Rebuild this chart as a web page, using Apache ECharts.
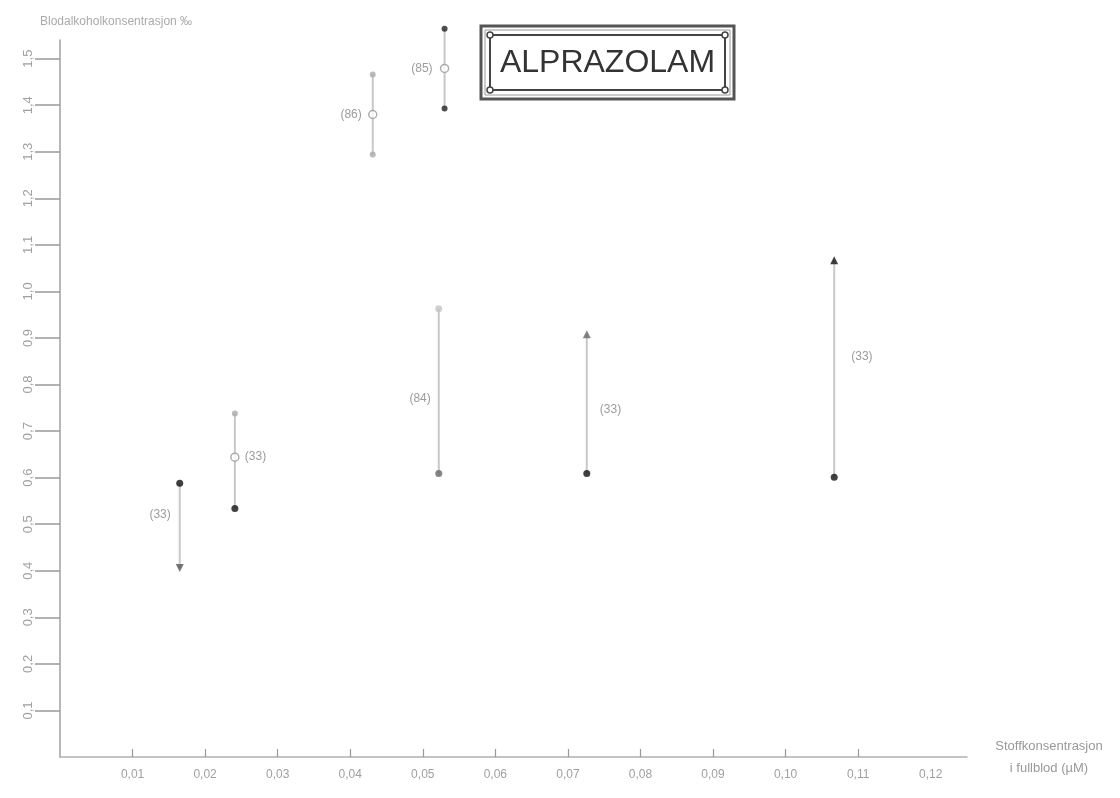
<!DOCTYPE html>
<html><head><meta charset="utf-8">
<script src="https://cdn.jsdelivr.net/npm/echarts@6/dist/echarts.min.js"></script>
<style>html,body{margin:0;padding:0;background:#fff}#c{width:1120px;height:798px}</style>
</head><body><div id="c"></div>
<script>
// ---- data ----
const concentrations = [0.0165, 0.0241, 0.0431, 0.0530, 0.0522, 0.0726, 0.1067];
const upperValues   = [0.588, 0.738, 1.466, 1.564, 0.963, 0.908, 1.067];
const middleValues  = [null, 0.644, 1.380, 1.479, null, null, null];
const lowerValues   = [0.406, 0.534, 1.294, 1.393, 0.609, 0.609, 0.601];
const caseCounts    = ['(33)', '(33)', '(86)', '(85)', '(84)', '(33)', '(33)'];
const countLabelAt  = [0.52, 0.644, 1.380, 1.479, 0.77, 0.745, 0.86];
const yTickValues   = [0.1, 0.2, 0.3, 0.4, 0.5, 0.6, 0.7, 0.8, 0.9, 1.0, 1.1, 1.2, 1.3, 1.4, 1.5];
const xTickValues   = [0.01, 0.02, 0.03, 0.04, 0.05, 0.06, 0.07, 0.08, 0.09, 0.10, 0.11, 0.12];
const titleText = 'ALPRAZOLAM';
const yAxisTitle = 'Blodalkoholkonsentrasjon ‰';
const xAxisTitle = 'Stoffkonsentrasjon\ni fullblod (µM)';

// ---- styles ----
const FONT = '"Liberation Sans", Arial, Helvetica, sans-serif';
const labelSide = ['left', 'right', 'left', 'left', 'left', 'right', 'right'];
const labelGap  = [9, 10, 11, 12, 8, 13, 17];
const upperMarker = [
  {symbol: 'circle', color: '#111', size: 7},
  {symbol: 'circle', color: '#aaa', size: 6},
  {symbol: 'circle', color: '#aaa', size: 6},
  {symbol: 'circle', color: '#222', size: 6},
  {symbol: 'circle', color: '#c4c4c4', size: 7},
  {symbol: 'triangle', color: '#666', size: 8},
  {symbol: 'triangle', color: '#111', size: 8}
];
const lowerMarker = [
  {symbol: 'path://M0,0 L10,0 L5,9 Z', color: '#555', size: 8},
  {symbol: 'circle', color: '#111', size: 7},
  {symbol: 'circle', color: '#aaa', size: 6},
  {symbol: 'circle', color: '#222', size: 6},
  {symbol: 'circle', color: '#666', size: 7},
  {symbol: 'circle', color: '#111', size: 7},
  {symbol: 'circle', color: '#111', size: 7}
];

const barData = concentrations.map((x, i) => [x, lowerValues[i], upperValues[i], countLabelAt[i]]);
const upperData = concentrations.map((x, i) => ({
  value: [x, upperValues[i]], symbol: upperMarker[i].symbol, symbolSize: upperMarker[i].size,
  itemStyle: {color: upperMarker[i].color}
}));
const lowerData = concentrations.map((x, i) => ({
  value: [x, lowerValues[i]], symbol: lowerMarker[i].symbol, symbolSize: lowerMarker[i].size,
  itemStyle: {color: lowerMarker[i].color}
}));
const middleData = concentrations.map((x, i) => middleValues[i] == null ? null : [x, middleValues[i]])
  .filter(d => d !== null);

const chart = echarts.init(document.getElementById('c'), null, {renderer: 'canvas'});
chart.setOption({
  backgroundColor: '#fff',
  animation: false,
  grid: {left: 60, right: 153, top: 40, bottom: 41, containLabel: false},
  xAxis: {
    type: 'value', min: 0, max: 0.125,
    name: xAxisTitle, nameLocation: 'end', nameGap: 82,
    nameTextStyle: {color: '#999', fontSize: 13, fontFamily: FONT, align: 'center', verticalAlign: 'middle', lineHeight: 22},
    splitLine: {show: false},
    axisLine: {lineStyle: {color: '#b0b0b0', width: 1.5}},
    axisTick: {inside: true, length: 8, customValues: xTickValues.slice(0, 11), lineStyle: {color: '#999', width: 1.2}},
    axisLabel: {customValues: xTickValues, margin: 12, color: '#a0a0a0', fontSize: 12, fontFamily: FONT,
      formatter: v => v.toFixed(2).replace('.', ',')}
  },
  yAxis: {
    type: 'value', min: 0, max: 1.54,
    name: yAxisTitle, nameLocation: 'end', nameGap: 12,
    nameTextStyle: {color: '#aaa', fontSize: 12, fontFamily: FONT, align: 'left', padding: [0, 0, 0, -20]},
    splitLine: {show: false},
    axisLine: {lineStyle: {color: '#a0a0a0', width: 1.5}},
    axisTick: {inside: false, length: 25, customValues: yTickValues, lineStyle: {color: '#999', width: 1.5}},
    axisLabel: {customValues: yTickValues, rotate: 90, margin: 25, color: '#a0a0a0', fontSize: 13, fontFamily: FONT,
      formatter: v => v.toFixed(1).replace('.', ',')}
  },
  graphic: [
    {type: 'rect', shape: {x: 481, y: 26, width: 253, height: 73}, style: {fill: 'none', stroke: '#555', lineWidth: 3}},
    {type: 'rect', shape: {x: 485, y: 30, width: 245, height: 65}, style: {fill: 'none', stroke: '#999', lineWidth: 1}},
    {type: 'rect', shape: {x: 490, y: 35, width: 235, height: 55}, style: {fill: '#fff', stroke: '#444', lineWidth: 2}},
    {type: 'circle', shape: {cx: 490, cy: 35, r: 3}, style: {fill: '#fff', stroke: '#444', lineWidth: 1.5}},
    {type: 'circle', shape: {cx: 725, cy: 35, r: 3}, style: {fill: '#fff', stroke: '#444', lineWidth: 1.5}},
    {type: 'circle', shape: {cx: 490, cy: 90, r: 3}, style: {fill: '#fff', stroke: '#444', lineWidth: 1.5}},
    {type: 'circle', shape: {cx: 725, cy: 90, r: 3}, style: {fill: '#fff', stroke: '#444', lineWidth: 1.5}},
    {type: 'text', x: 607.5, y: 63, style: {text: titleText, align: 'center', verticalAlign: 'middle',
      fill: '#333', font: '32px ' + FONT}}
  ],
  series: [
    {
      type: 'custom', z: 1, clip: false,
      data: barData,
      renderItem: (params, api) => {
        const i = params.dataIndex;
        const x = api.value(0);
        const p1 = api.coord([x, api.value(1)]);
        const p2 = api.coord([x, api.value(2)]);
        const pl = api.coord([x, api.value(3)]);
        const left = labelSide[i] === 'left';
        return {type: 'group', children: [
          {type: 'line', shape: {x1: p1[0], y1: p1[1], x2: p2[0], y2: p2[1]},
            style: {stroke: '#c8c8c8', lineWidth: 2}},
          {type: 'text', x: pl[0] + (left ? -labelGap[i] : labelGap[i]), y: pl[1],
            style: {text: caseCounts[i], align: left ? 'right' : 'left', verticalAlign: 'middle',
              fill: '#9c9c9c', font: '12px ' + FONT}}
        ]};
      }
    },
    {type: 'scatter', z: 3, clip: false, data: upperData},
    {type: 'scatter', z: 3, clip: false, data: lowerData},
    {type: 'scatter', z: 3, clip: false, data: middleData, symbol: 'circle', symbolSize: 8,
      itemStyle: {color: '#fff', borderColor: '#999', borderWidth: 1.5}}
  ]
});
</script></body></html>
